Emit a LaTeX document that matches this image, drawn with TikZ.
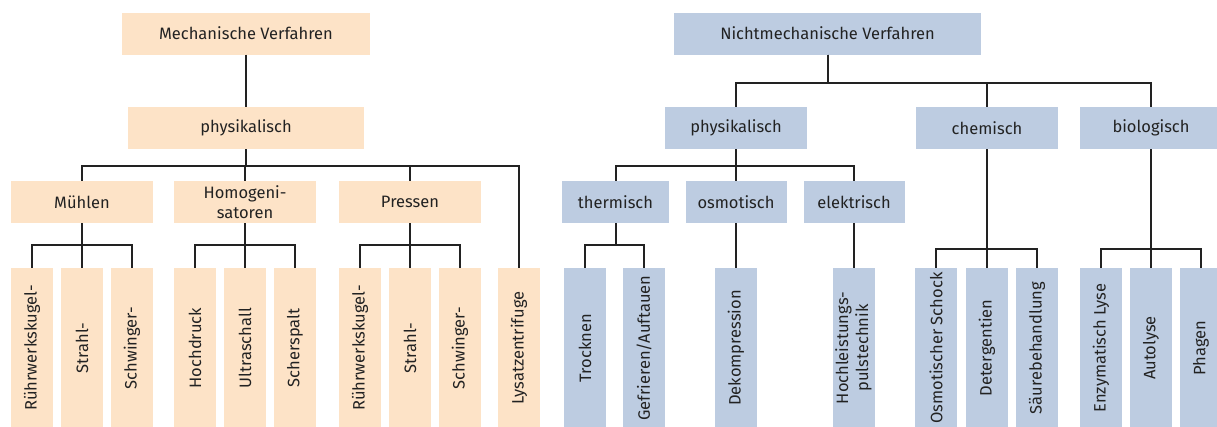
\documentclass[tikz,border=0pt]{standalone}
\usepackage{fontspec}
\setmainfont{Fira Sans}
\usepackage{xcolor}
\definecolor{peach}{HTML}{FDE3C7}
\definecolor{steel}{HTML}{BDCCE1}
\definecolor{ink}{HTML}{222222}
\tikzset{
	box/.style={inner sep=0pt, minimum height=42pt, text=ink, font=\fontsize{16.5}{20}\selectfont, align=center},
	mbox/.style={box, fill=peach},
	nbox/.style={box, fill=steel},
	mleaf/.style={mbox, minimum width=42pt, minimum height=160pt},
	nleaf/.style={nbox, minimum width=42pt, minimum height=160pt},
	link/.style={draw=ink, line width=2pt}
}

\begin{document}
\begin{tikzpicture}[x=1pt,y=-1pt]
		\useasboundingbox (0,0) rectangle (1217,426);
		\clip (0,0) rectangle (1217,426);
		% mechanische Seite
		\node[mbox, minimum width=248pt] (mv) at (246,33.5) {Mechanische Verfahren};
		\node[mbox, minimum width=236pt] (mphys) at (246,128) {physikalisch};
		\node[mbox, minimum width=142pt] (muehlen) at (82,202) {Mühlen};
		\node[mbox, minimum width=142pt] (homog) at (245,202) {Homogeni-\\satoren};
		\node[mbox, minimum width=142pt] (pressen) at (410,202) {Pressen};
		\node[mleaf] (mrk) at (32,348) {\rotatebox{90}{Rührwerkskugel-}};
		\node[mleaf] (mst) at (82,348) {\rotatebox{90}{Strahl-}};
		\node[mleaf] (msw) at (132,348) {\rotatebox{90}{Schwinger-}};
		\node[mleaf] (hoch) at (195,348) {\rotatebox{90}{Hochdruck}};
		\node[mleaf] (ultra) at (245,348) {\rotatebox{90}{Ultraschall}};
		\node[mleaf] (scher) at (295,348) {\rotatebox{90}{Scherspalt}};
		\node[mleaf] (prk) at (360,348) {\rotatebox{90}{Rührwerkskugel-}};
		\node[mleaf] (pst) at (410,348) {\rotatebox{90}{Strahl-}};
		\node[mleaf] (psw) at (460,348) {\rotatebox{90}{Schwinger-}};
		\node[mleaf] (lysat) at (519,348) {\rotatebox{90}{Lysatzentrifuge}};
		\draw[link] (mv.south) -- (mphys.north);
		\draw[link] (mphys.south) -- ++(0,17) -| (muehlen.north);
		\draw[link] (mphys.south) -- ++(0,17) -| (homog.north);
		\draw[link] (mphys.south) -- ++(0,17) -| (pressen.north);
		\draw[link] (mphys.south) -- ++(0,17) -| (lysat.north);
		\draw[link] (muehlen.south) -- ++(0,22) -| (mrk.north);
		\draw[link] (muehlen.south) -- (mst.north);
		\draw[link] (muehlen.south) -- ++(0,22) -| (msw.north);
		\draw[link] (homog.south) -- ++(0,22) -| (hoch.north);
		\draw[link] (homog.south) -- (ultra.north);
		\draw[link] (homog.south) -- ++(0,22) -| (scher.north);
		\draw[link] (pressen.south) -- ++(0,22) -| (prk.north);
		\draw[link] (pressen.south) -- (pst.north);
		\draw[link] (pressen.south) -- ++(0,22) -| (psw.north);
		% nichtmechanische Seite
		\node[nbox, minimum width=307pt] (nv) at (827.5,33.5) {Nichtmechanische Verfahren};
		\node[nbox, minimum width=142pt] (nphys) at (736,128) {physikalisch};
		\node[nbox, minimum width=142pt] (chem) at (987,128) {chemisch};
		\node[nbox, minimum width=142pt] (bio) at (1151,128) {biologisch};
		\node[nbox, minimum width=107pt] (therm) at (615.5,202) {thermisch};
		\node[nbox, minimum width=101pt] (osmo) at (736,202) {osmotisch};
		\node[nbox, minimum width=101pt] (elek) at (854,202) {elektrisch};
		\node[nleaf] (trock) at (585,348) {\rotatebox{90}{Trocknen}};
		\node[nleaf] (gefr) at (644,348) {\rotatebox{90}{Gefrieren/Auftauen}};
		\node[nleaf] (dekomp) at (736,348) {\rotatebox{90}{Dekompression}};
		\node[nleaf] (hlp) at (854,348) {\rotatebox{90}{\begin{tabular}{@{}c@{}}Hochleistungs-\\pulstechnik\end{tabular}}};
		\node[nleaf] (schock) at (936,348) {\rotatebox{90}{Osmotischer Schock}};
		\node[nleaf] (deterg) at (987,348) {\rotatebox{90}{Detergentien}};
		\node[nleaf] (saeure) at (1037,348) {\rotatebox{90}{Säurebehandlung}};
		\node[nleaf] (enzym) at (1101,348) {\rotatebox{90}{Enzymatisch Lyse}};
		\node[nleaf] (autol) at (1151,348) {\rotatebox{90}{Autolyse}};
		\node[nleaf] (phag) at (1201,348) {\rotatebox{90}{Phagen}};
		\draw[link] (nv.south) -- ++(0,28) -| (nphys.north);
		\draw[link] (nv.south) -- ++(0,28) -| (chem.north);
		\draw[link] (nv.south) -- ++(0,28) -| (bio.north);
		\draw[link] (nphys.south) -- ++(0,17) -| (therm.north);
		\draw[link] (nphys.south) -- (osmo.north);
		\draw[link] (nphys.south) -- ++(0,17) -| (elek.north);
		\draw[link] (therm.south) -- ++(0,22) -| (trock.north);
		\draw[link] (therm.south) -- ++(0,22) -| (gefr.north);
		\draw[link] (osmo.south) -- (dekomp.north);
		\draw[link] (elek.south) -- (hlp.north);
		\draw[link] (chem.south) -- ++(0,100) -| (schock.north);
		\draw[link] (chem.south) -- (deterg.north);
		\draw[link] (chem.south) -- ++(0,100) -| (saeure.north);
		\draw[link] (bio.south) -- ++(0,100) -| (enzym.north);
		\draw[link] (bio.south) -- (autol.north);
		\draw[link] (bio.south) -- ++(0,100) -| (phag.north);
	\end{tikzpicture}
\end{document}
